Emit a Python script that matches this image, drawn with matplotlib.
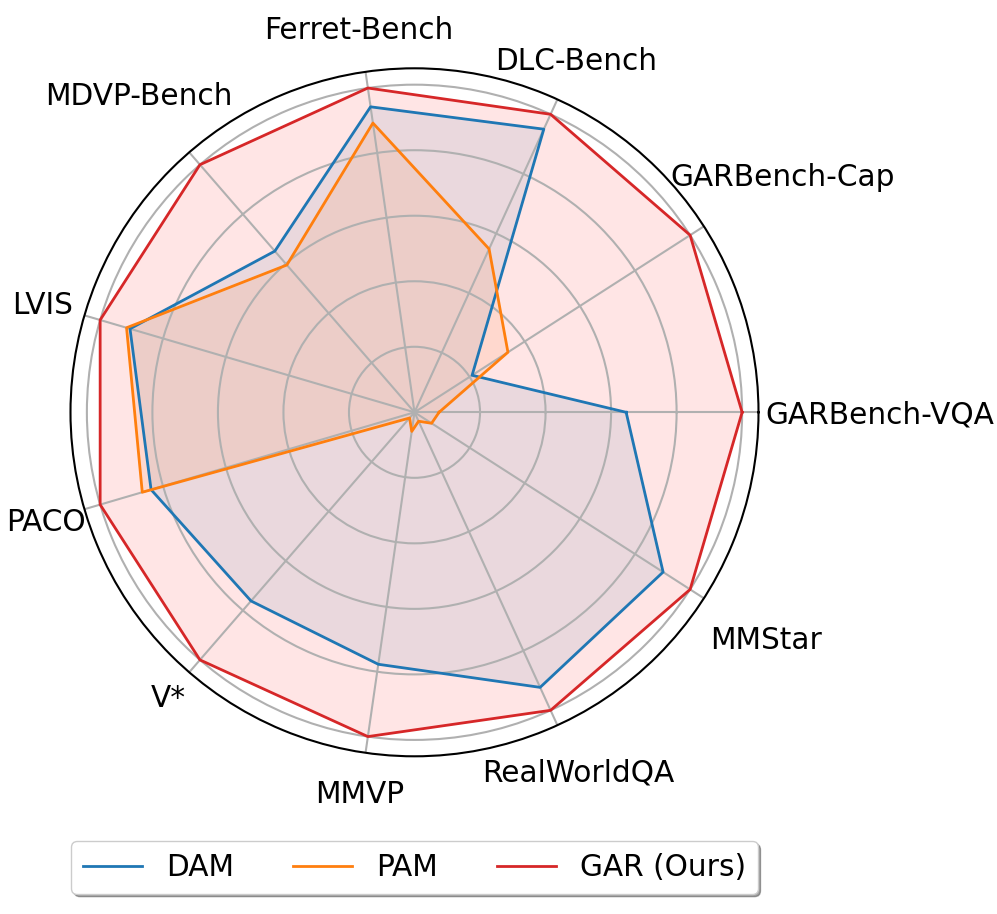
import numpy as np
import matplotlib
matplotlib.use("Agg")
import matplotlib.pyplot as plt

categories = ["GARBench-VQA", "GARBench-Cap", "DLC-Bench", "Ferret-Bench", "MDVP-Bench",
              "LVIS", "PACO", "V*", "MMVP", "RealWorldQA", "MMStar"]
dam = [0.646, 0.209, 0.950, 0.942, 0.651, 0.905, 0.838, 0.762, 0.777, 0.923, 0.902]
pam = [0.075, 0.339, 0.548, 0.892, 0.595, 0.916, 0.866, 0.023, 0.059, 0.030, 0.062]
gar = [1.0, 1.0, 1.0, 1.0, 1.0, 1.0, 1.0, 1.0, 1.0, 1.0, 1.0]
series_names = ["DAM", "PAM", "GAR (Ours)"]
series_colors = ["tab:blue", "tab:orange", "tab:red"]
fill_colors = ["tab:blue", "tab:orange", "red"]

# label centre distance from the plot centre, in units of the outer circle radius
label_dist = [1.352, 1.273, 1.129, 1.129, 1.224, 1.126, 1.118, 1.094, 1.115, 1.147, 1.216]

W, H, DPI = 997, 914, 100
FS = 21.3
fig = plt.figure(figsize=(W / DPI, H / DPI), dpi=DPI)
cx, cy, R = 414.5, 412.3, 344.0
ax = fig.add_axes([(cx - R) / W, (H - cy - R) / H, 2 * R / W, 2 * R / H], polar=True)

n = len(categories)
angles = np.linspace(0, 2 * np.pi, n, endpoint=False)
closed = np.concatenate([angles, angles[:1]])

for name, vals, col, fcol in zip(series_names, [dam, pam, gar], series_colors, fill_colors):
    v = np.concatenate([vals, vals[:1]])
    ax.plot(closed, v, color=col, lw=2, label=name)
    ax.fill(closed, v, color=fcol, alpha=0.1)

ax.set_ylim(0, 1.05)
ax.set_yticks([0.2, 0.4, 0.6, 0.8, 1.0])
ax.set_yticklabels([])
ax.set_xticks(angles)
ax.set_xticklabels([])
ax.grid(True, color="#b0b0b0", lw=1.5)
ax.spines["polar"].set_linewidth(1.5)
ax.spines["polar"].set_color("black")

cap_pt = 0.729 * FS
for ang, lab, ld in zip(angles, categories, label_dist):
    d = ld * R
    ax.annotate(lab, xy=(ang, 0),
                xytext=(d * np.cos(ang) * 72 / DPI, d * np.sin(ang) * 72 / DPI - cap_pt / 2),
                textcoords="offset points", ha="center", va="baseline",
                fontsize=FS, annotation_clip=False)

fig.legend(loc="center", bbox_to_anchor=(cx / W, 1 - 867.5 / H), ncol=3, fontsize=FS,
           fancybox=True, shadow=True, handlelength=2.0, framealpha=1)

fig.savefig("out.png", dpi=DPI)
